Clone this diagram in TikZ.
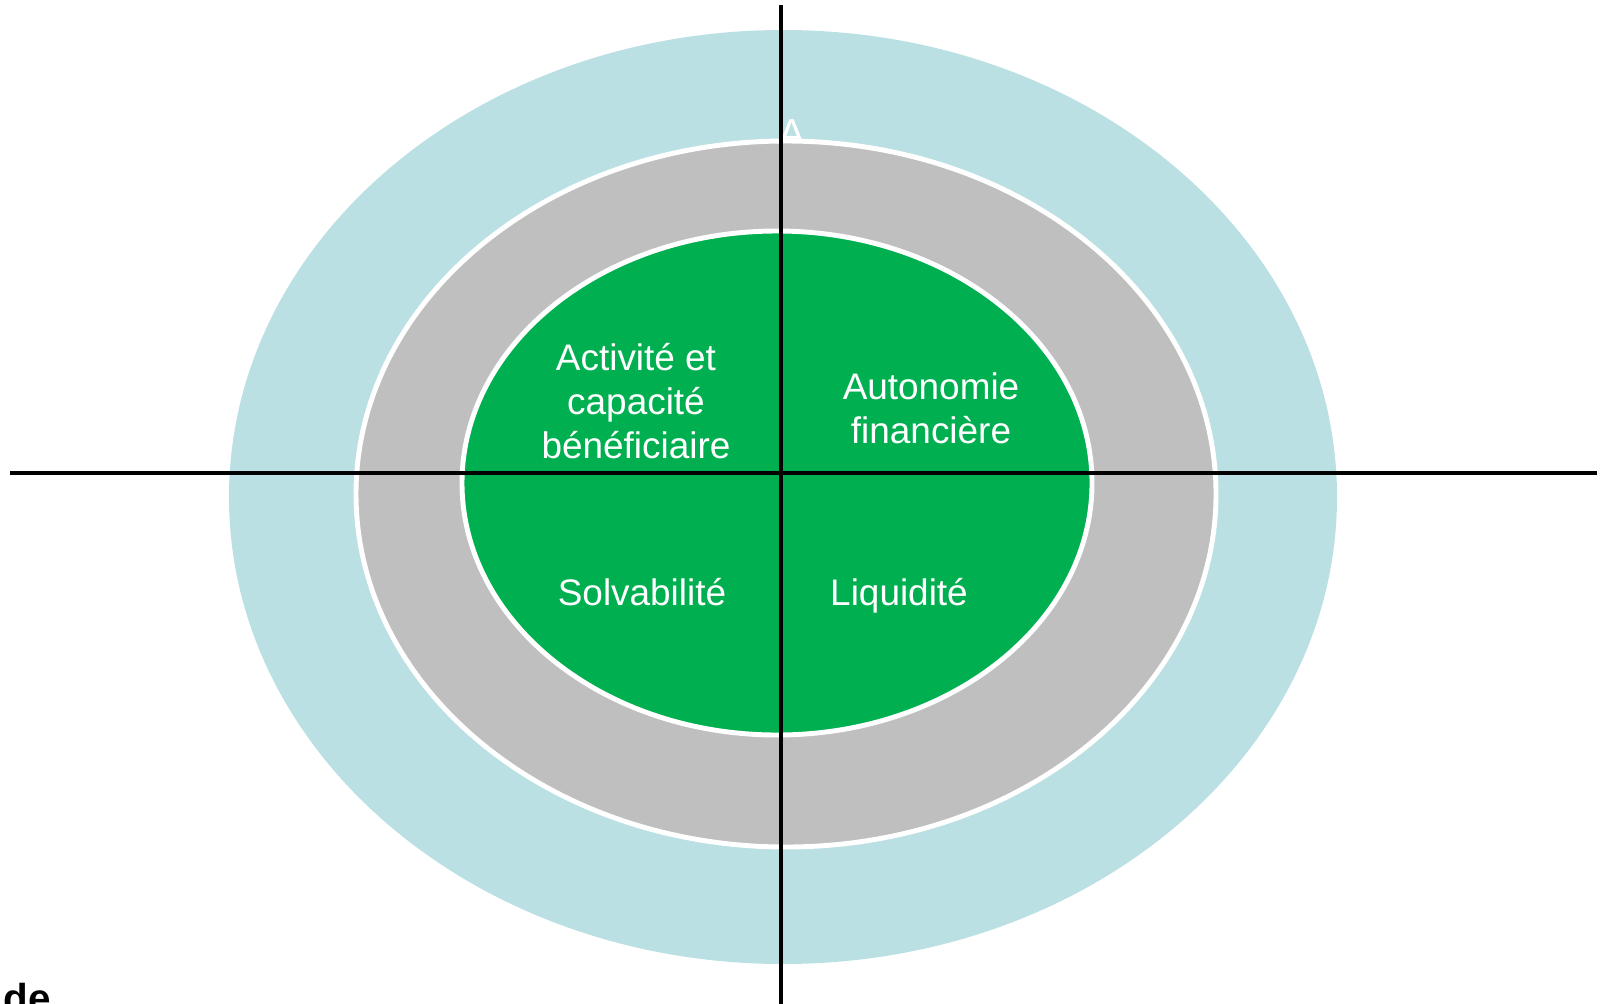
\documentclass[tikz,border=0pt]{standalone}
\usepackage{fontspec}
\setmainfont{Liberation Sans}
\usepackage{tikz}

\definecolor{ringblue}{RGB}{187,224,227}
\definecolor{ringgray}{RGB}{191,191,191}
\definecolor{coregreen}{RGB}{0,176,80}

\tikzset{
  lbl/.style={text=white, align=center, font=\fontsize{10.5}{12.6}\selectfont, inner sep=0pt},
  axis/.style={line width=1.15pt, black},
  ring/.style={draw=white, line width=1.4pt}
}

\begin{document}
\begin{tikzpicture}[x=0.01cm, y=-0.01cm]

\useasboundingbox (0,0) rectangle (1604,1003);
\clip (0,0) rectangle (1604,1003);

\fill[ringblue] (783,497) ellipse [x radius=554, y radius=467];

\node[lbl, anchor=base, font=\fontsize{11.5}{13.8}\selectfont] (hidden) at (792,147) {A};

\filldraw[ring, fill=ringgray] (786,494) ellipse [x radius=430, y radius=353];

\filldraw[ring, fill=coregreen] (777,483) ellipse [x radius=315, y radius=252];

\node[lbl] (act) at (636,401) {Activité et\\capacité\\bénéficiaire};

\node[lbl] (auto) at (931,408) {Autonomie\\financière};

\node[lbl, anchor=base] (solv) at (642,605) {Solvabilité};

\node[lbl, anchor=base] (liq) at (899,605) {Liquidité};

\coordinate (top) at (781,5);
\coordinate (bottom) at (781,1010);
\coordinate (left) at (10,473);
\coordinate (right) at (1597,473);

\draw[axis] (top) -- (bottom);
\draw[axis] (left) -- (right);

\node[anchor=base west, inner sep=0pt, font=\fontsize{11.5}{13.8}\selectfont\bfseries] (de) at (3,1012) {de};

\end{tikzpicture}
\end{document}
